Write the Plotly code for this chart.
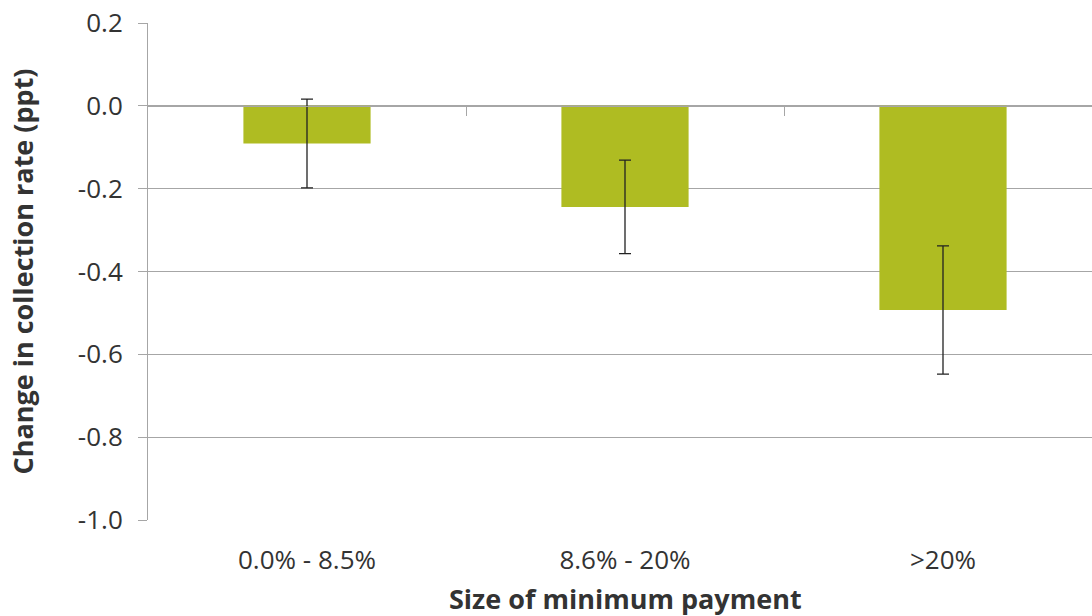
import plotly.graph_objects as go

categories = ["0.0% - 8.5%", "8.6% - 20%", ">20%"]
values = [-0.091, -0.244, -0.493]
errors = [0.107, 0.113, 0.155]
y_ticks = [0.2, 0.0, -0.2, -0.4, -0.6, -0.8, -1.0]
y_tick_labels = ["0.2", "0.0", "-0.2", "-0.4", "-0.6", "-0.8", "-1.0"]
x_title = "Size of minimum payment"
y_title = "Change in collection rate (ppt)"

YMIN, YMAX = -1.0, 0.2
idx = list(range(len(categories)))
XRANGE = [-0.5, -0.5 + 944 / 318]

FONT = "Open Sans"
GRID = "#A6A6A6"
TXT = "#333333"
TICK_SIZE = 26
TITLE_SIZE = 27

fig = go.Figure()
fig.add_trace(go.Bar(
    x=idx, y=values, width=0.4,
    marker=dict(color="#AFBC22", line=dict(width=0)),
    error_y=dict(type="data", array=errors, visible=True,
                 color="#222222", thickness=1.3, width=6),
    hoverinfo="skip", showlegend=False,
))
# invisible trace to carry the zero-line axis with between-category ticks
fig.add_trace(go.Scatter(x=idx, y=[0] * len(idx), xaxis="x2", mode="markers",
                         marker=dict(opacity=0), hoverinfo="skip", showlegend=False))

fig.update_layout(
    width=1092, height=616,
    margin=dict(l=148, r=0, t=23, b=96),
    paper_bgcolor="white", plot_bgcolor="white",
    font=dict(family=FONT, color=TXT, size=TICK_SIZE),
    xaxis=dict(range=XRANGE, tickmode="array", tickvals=idx, ticktext=categories,
               ticks="", showgrid=False, showline=False, zeroline=False,
               tickfont=dict(size=TICK_SIZE, color=TXT), ticklabelstandoff=22),
    xaxis2=dict(range=XRANGE, overlaying="x", anchor="free",
                position=(0 - YMIN) / (YMAX - YMIN), side="bottom",
                tickmode="array", tickvals=[i + 0.5 for i in idx[:-1]],
                showticklabels=False, ticks="outside", ticklen=9, tickwidth=1,
                tickcolor=GRID, showline=True, linecolor=GRID, linewidth=1,
                showgrid=False, zeroline=False),
    yaxis=dict(range=[YMIN, YMAX], tickmode="array", tickvals=y_ticks,
               ticktext=y_tick_labels, ticks="outside", ticklen=9, tickwidth=1,
               tickcolor=GRID, showline=True, linecolor=GRID, linewidth=1,
               showgrid=True, gridcolor=GRID, gridwidth=1, zeroline=False,
               tickfont=dict(size=TICK_SIZE, color=TXT), ticklabelstandoff=10),
)
fig.add_annotation(x=1, xref="x", y=0, yref="paper", yshift=-78,
                   text="<b>" + x_title + "</b>", showarrow=False,
                   font=dict(size=TITLE_SIZE, color=TXT), yanchor="middle",
                   borderpad=0)
fig.add_annotation(x=0, xref="paper", xshift=-126, y=0.5, yref="paper",
                   text="<b>" + y_title + "</b>", textangle=-90, showarrow=False,
                   font=dict(size=TITLE_SIZE, color=TXT), xanchor="center")

fig.write_html("out.html", config={"displayModeBar": False},
               post_script="document.body.style.margin='0';document.body.style.overflow='hidden';")
